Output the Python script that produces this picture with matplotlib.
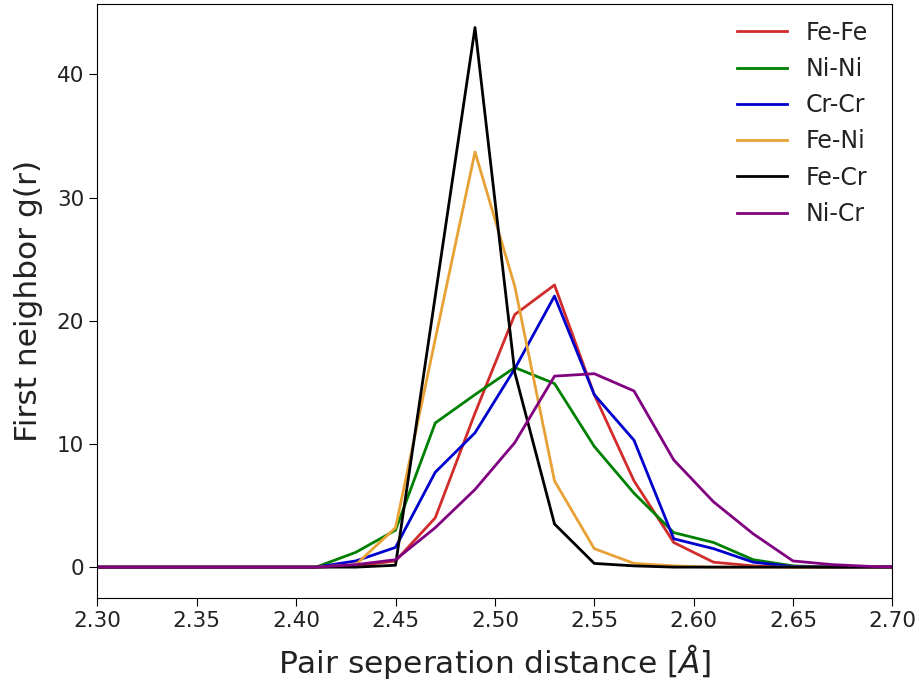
import matplotlib
matplotlib.use("Agg")
from matplotlib import pyplot as plt

# bin centres of the pair distance histogram [Angstrom]
r = [2.29, 2.31, 2.33, 2.35, 2.37, 2.39, 2.41, 2.43, 2.45, 2.47, 2.49,
     2.51, 2.53, 2.55, 2.57, 2.59, 2.61, 2.63, 2.65, 2.67, 2.69, 2.71]

fe_fe = [0, 0, 0, 0, 0, 0, 0, 0.1, 0.5, 4.0, 12.5,
         20.5, 22.9, 14.0, 7.0, 2.0, 0.4, 0.1, 0, 0, 0, 0]
ni_ni = [0, 0, 0, 0, 0, 0, 0, 1.2, 3.0, 11.7, 14.0,
         16.2, 14.9, 9.8, 6.0, 2.8, 2.0, 0.6, 0.1, 0, 0, 0]
cr_cr = [0, 0, 0, 0, 0, 0, 0, 0.5, 1.6, 7.7, 10.9,
         16.1, 22.0, 14.0, 10.3, 2.3, 1.5, 0.4, 0.05, 0, 0, 0]
fe_ni = [0, 0, 0, 0, 0, 0, 0, 0.2, 3.2, 18.5, 33.7,
         22.8, 7.0, 1.5, 0.3, 0.1, 0, 0, 0, 0, 0, 0]
fe_cr = [0, 0, 0, 0, 0, 0, 0, 0, 0.15, 22.0, 43.8,
         15.8, 3.5, 0.3, 0.1, 0, 0, 0, 0, 0, 0, 0]
ni_cr = [0, 0, 0, 0, 0, 0, 0, 0.2, 0.6, 3.2, 6.3,
         10.1, 15.5, 15.7, 14.3, 8.7, 5.3, 2.7, 0.5, 0.2, 0.05, 0]

pairs = ["Fe-Fe", "Ni-Ni", "Cr-Cr", "Fe-Ni", "Fe-Cr", "Ni-Cr"]
colors = ["#d22b2b", "green", "mediumblue", "#e8a135", "black", "purple"]

fig, ax = plt.subplots(figsize=(9.19, 6.81), dpi=100)
for gr, name, c in zip([fe_fe, ni_ni, cr_cr, fe_ni, fe_cr, ni_cr], pairs, colors):
    ax.plot(r, gr, color=c, lw=2, label=name)

ax.set_xlim(2.30, 2.70)
ax.set_ylim(-2.5, 45.7)
ax.set_yticks([0, 10, 20, 30, 40])
ax.tick_params(labelsize=15.5, length=6, labelcolor="#222222")
ax.set_xlabel(r"Pair seperation distance [$\AA$]", fontsize=22.5, color="#222222",
              labelpad=8)
ax.set_ylabel("First neighbor g(r)", fontsize=22.5, color="#222222", labelpad=10)
leg = ax.legend(frameon=False, fontsize=17, loc="upper right", labelspacing=0.52,
                borderaxespad=0.3, handlelength=2.1, bbox_to_anchor=(0.99, 1.0))
for t in leg.get_texts():
    t.set_color("#222222")

fig.subplots_adjust(left=0.106, right=0.971, top=0.994, bottom=0.122)
fig.savefig("out.png", dpi=100)
